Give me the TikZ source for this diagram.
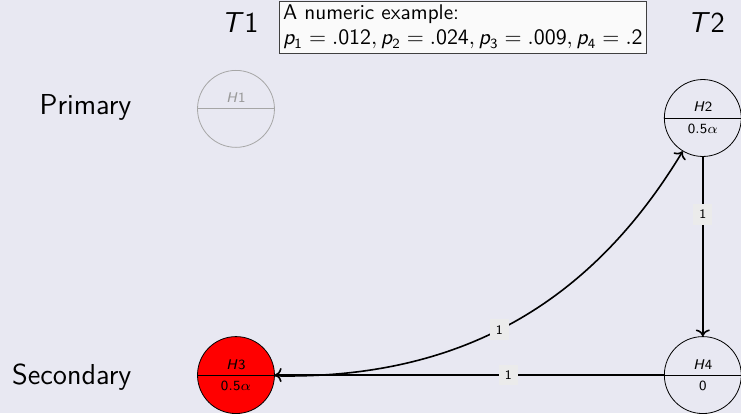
\documentclass[11pt,tikz,border=0pt]{standalone}
\usepackage{xcolor}
\definecolor{slidebg}{RGB}{232,232,242}
% sans serif math letters and digits, greek stays as is
\DeclareSymbolFont{sfletters}{OT1}{cmss}{m}{sl}
\SetSymbolFont{operators}{normal}{OT1}{cmss}{m}{n}
\DeclareMathSymbol{p}{\mathalpha}{sfletters}{`p}
\DeclareMathSymbol{H}{\mathalpha}{sfletters}{`H}
\DeclareMathSymbol{T}{\mathalpha}{sfletters}{`T}
\usepackage{tikz}
\usetikzlibrary{shapes.multipart,arrows.meta}
\tikzset{
  hyp/.style   ={circle split, draw=black, minimum size=13.5mm, inner sep=2.8pt,
                 font=\fontsize{7}{8}\selectfont, line width=0.4pt},
  hypoff/.style={hyp, draw=black!35, text=black!40},
  hyprej/.style={hyp, fill=red},
  arr/.style   ={->, thick},
  wlab/.style  ={font=\fontsize{6.5}{7}\selectfont, fill=black!8, inner sep=3pt},
  rowlab/.style={font=\Large, anchor=east},
  collab/.style={font=\Large},
  exbox/.style ={draw=black!75, fill=black!2, anchor=north west, align=left,
                 inner sep=2pt, font=\fontsize{10.6}{12.6}\selectfont},
}

\begin{document}
\begin{tikzpicture}
  \sffamily
  \fill[slidebg] (0,0) rectangle (13,-7.246);
  \useasboundingbox (0,0) rectangle (13,-7.246);

  % columns and rows
  \node[collab] (T1) at (4.21,-0.39) {$T1$};
  \node[collab] (T2) at (12.39,-0.39) {$T2$};
  \node[rowlab] (primary)   at (2.44,-1.88) {Primary};
  \node[rowlab] (secondary) at (2.44,-6.61) {Secondary};

  \node[exbox] (example) at (4.89,-0.01)
    {A numeric example:\\ $p_1=.012, p_2=.024, p_3=.009, p_4=.2$};

  % hypotheses
  \node[hypoff] (H1) at (4.14,-1.91)  {$H1$ \nodepart{lower} \phantom{0}};
  \node[hyp]    (H2) at (12.33,-2.07) {$H2$ \nodepart{lower} $0.5\alpha$};
  \node[hyprej] (H3) at (4.14,-6.58)  {$H3$ \nodepart{lower} $0.5\alpha$};
  \node[hyp]    (H4) at (12.33,-6.58) {$H4$ \nodepart{lower} $0$};

  % weights
  \draw[arr] (H2) -- node[wlab, pos=.32] {1} (H4);
  \draw[arr] (H4) -- node[wlab, pos=.4] {1} (H3);
  \draw[arr] (H3) to[bend right] node[wlab, pos=.47] {1} (H2);
\end{tikzpicture}
\end{document}
